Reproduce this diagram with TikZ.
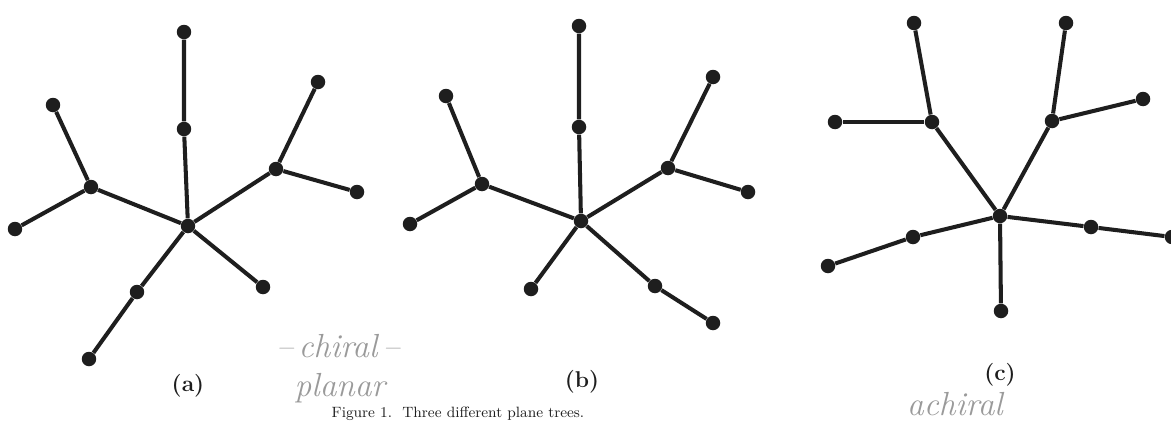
\documentclass[tikz,border=0pt]{standalone}
\usetikzlibrary{positioning}
\definecolor{treeInk}{HTML}{1E1E1E}
\definecolor{penInk}{HTML}{9A9A9A}
\tikzset{
  treefig/.style={x=0.02cm, y=-0.02cm,
    every node/.append style={font=\fontsize{13}{15}\selectfont\bfseries},
  },
  vtx/.style={circle, fill=treeInk, draw=none, inner sep=0pt, minimum size=0.29cm},
  edge/.style={draw=treeInk, line width=2.3pt},
  sublabel/.style={text=treeInk, inner sep=1pt},
  % Handschriftliche Randnotizen: grau und kursiv.
  pennote/.style={text=penInk, font=\fontsize{19}{21}\selectfont\itshape, inner sep=0pt},
  captionnote/.style={text=treeInk, font=\fontsize{8.5}{10}\selectfont, inner sep=0pt},
}
\begin{document}
\begin{tikzpicture}[treefig]
  \useasboundingbox (0,0) rectangle (1171,423);
  % (a)
  \node[vtx] (a-c) at (188,226) {};
  \node[vtx] (a-t2) at (184,32) {};
  \node[vtx] (a-t1) at (184,129) {};
  \node[vtx] (a-l) at (91,187) {};
  \node[vtx] (a-lu) at (53,105) {};
  \node[vtx] (a-ld) at (15,229) {};
  \node[vtx] (a-r) at (276,169) {};
  \node[vtx] (a-ru) at (318,82) {};
  \node[vtx] (a-rr) at (357,192) {};
  \node[vtx] (a-dr) at (263,287) {};
  \node[vtx] (a-d1) at (137,292) {};
  \node[vtx] (a-d2) at (89,359) {};
  \draw[edge] (a-c) -- (a-t1) -- (a-t2);
  \draw[edge] (a-c) -- (a-l) -- (a-lu);
  \draw[edge] (a-l) -- (a-ld);
  \draw[edge] (a-c) -- (a-r) -- (a-ru);
  \draw[edge] (a-r) -- (a-rr);
  \draw[edge] (a-c) -- (a-dr);
  \draw[edge] (a-c) -- (a-d1) -- (a-d2);
  \node[sublabel] (a-lab) at (188,386) {(a)};

  % (b)
  \node[vtx] (b-c) at (581,221) {};
  \node[vtx] (b-t2) at (579,26) {};
  \node[vtx] (b-t1) at (579,127) {};
  \node[vtx] (b-l) at (482,184) {};
  \node[vtx] (b-lu) at (446,96) {};
  \node[vtx] (b-ld) at (410,224) {};
  \node[vtx] (b-r) at (668,168) {};
  \node[vtx] (b-ru) at (713,77) {};
  \node[vtx] (b-rr) at (748,192) {};
  \node[vtx] (b-dl) at (531,289) {};
  \node[vtx] (b-d1) at (655,286) {};
  \node[vtx] (b-d2) at (713,323) {};
  \draw[edge] (b-c) -- (b-t1) -- (b-t2);
  \draw[edge] (b-c) -- (b-l) -- (b-lu);
  \draw[edge] (b-l) -- (b-ld);
  \draw[edge] (b-c) -- (b-r) -- (b-ru);
  \draw[edge] (b-r) -- (b-rr);
  \draw[edge] (b-c) -- (b-dl);
  \draw[edge] (b-c) -- (b-d1) -- (b-d2);
  \node[sublabel] (b-lab) at (582,382) {(b)};

  % (c)
  \node[vtx] (c-c) at (1000,216) {};
  \node[vtx] (c-l) at (932,122) {};
  \node[vtx] (c-lu) at (914,23) {};
  \node[vtx] (c-ll) at (835,122) {};
  \node[vtx] (c-r) at (1052,121) {};
  \node[vtx] (c-ru) at (1066,23) {};
  \node[vtx] (c-rr) at (1143,99) {};
  \node[vtx] (c-d1) at (913,237) {};
  \node[vtx] (c-d2) at (828,266) {};
  \node[vtx] (c-b) at (1001,311) {};
  \node[vtx] (c-e1) at (1091,227) {};
  \node[vtx] (c-e2) at (1172,237) {};
  \draw[edge] (c-c) -- (c-l) -- (c-lu);
  \draw[edge] (c-l) -- (c-ll);
  \draw[edge] (c-c) -- (c-r) -- (c-ru);
  \draw[edge] (c-r) -- (c-rr);
  \draw[edge] (c-c) -- (c-d1) -- (c-d2);
  \draw[edge] (c-c) -- (c-b);
  \draw[edge] (c-c) -- (c-e1) -- (c-e2);
  \node[sublabel] (c-lab) at (1000,375) {(c)};

  \node[pennote] (chiral) at (338,346) {--\,chiral\,--};
  \node[pennote] (planar) at (340,388) {planar};
  \node[pennote] (achiral) at (955,404) {achiral};
  \node[captionnote] (caption) at (458,414) {Figure 1.\ \ Three different plane trees.};
\end{tikzpicture}
\end{document}
